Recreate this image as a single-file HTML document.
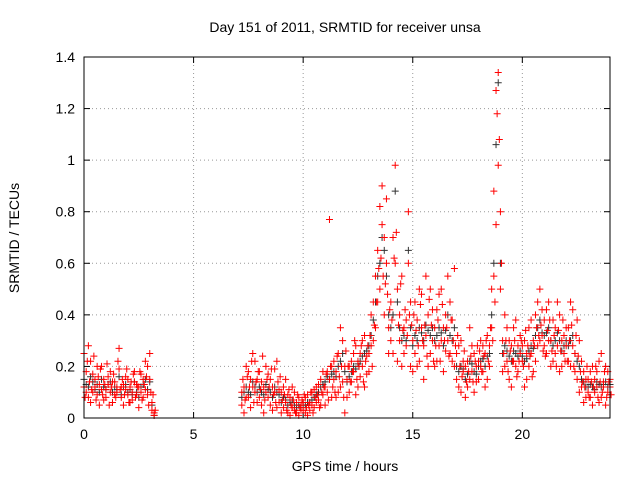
<!DOCTYPE html>
<html><head><meta charset="utf-8"><style>
body{margin:0;background:#fff;}
svg{display:block;font-family:"Liberation Sans",sans-serif;}
</style></head><body>
<svg id="chart" width="640" height="480">
<text x="345" y="32" text-anchor="middle" font-size="14">Day 151 of 2011, SRMTID for receiver unsa</text>
<text x="345" y="471" text-anchor="middle" font-size="14">GPS time / hours</text>
<text transform="translate(19,238) rotate(-90)" text-anchor="middle" font-size="14">SRMTID / TECUs</text>
<g id="grid"></g><g id="axes"></g><g id="blk"></g><g id="red"></g>
<rect x="84" y="57" width="526" height="361" fill="none" stroke="#000" stroke-width="1"/>
</svg>
<script>
const times=[0,0.1,0.2,0.3,0.4,0.5,0.6,0.7,0.8,0.9,1,1.1,1.2,1.3,1.4,1.5,1.6,1.7,1.8,1.9,2,2.1,2.2,2.3,2.4,2.5,2.6,2.7,2.8,2.9,3,3.1,3.2,
7.2,7.3,7.4,7.5,7.6,7.7,7.8,7.9,8,8.1,8.2,8.3,8.4,8.5,8.6,8.7,8.8,8.9,9,9.1,9.2,9.3,9.4,9.5,9.6,9.7,9.8,9.9,
10,10.1,10.2,10.3,10.4,10.5,10.6,10.7,10.8,10.9,11,11.1,11.2,11.3,11.4,11.5,11.6,11.7,11.8,11.9,12,12.1,12.2,12.3,12.4,12.5,12.6,12.7,12.8,12.9,
13,13.1,13.2,13.3,13.4,13.5,13.6,13.7,13.8,13.9,14,14.1,14.2,14.3,14.4,14.5,14.6,14.7,14.8,14.9,15,15.1,15.2,15.3,15.4,15.5,15.6,15.7,15.8,15.9,
16,16.1,16.2,16.3,16.4,16.5,16.6,16.7,16.8,16.9,17,17.1,17.2,17.3,17.4,17.5,17.6,17.7,17.8,17.9,18,18.1,18.2,18.3,18.4,18.5,18.6,18.7,18.8,18.9,
19,19.1,19.2,19.3,19.4,19.5,19.6,19.7,19.8,19.9,20,20.1,20.2,20.3,20.4,20.5,20.6,20.7,20.8,20.9,21,21.1,21.2,21.3,21.4,21.5,21.6,21.7,21.8,21.9,
22,22.1,22.2,22.3,22.4,22.5,22.6,22.7,22.8,22.9,23,23.1,23.2,23.3,23.4,23.5,23.6,23.7,23.8,23.9,24];
const red1=[.12,.18,.08,.22,.10,.15,.09,.13,.20,.07,.11,.16,.10,.14,.09,.12,.19,.08,.13,.11,.15,.06,.10,.14,.09,.12,.17,.08,.11,.20,.15,.06,.02,
.05,.12,.20,.08,.15,.25,.10,.06,.18,.05,.12,.20,.08,.15,.03,.10,.22,.06,.10,.04,.15,.02,.08,.12,.03,.06,.01,.05,
.03,.08,.01,.06,.10,.04,.12,.07,.15,.09,.12,.18,.77,.20,.15,.08,.25,.12,.30,.02,.15,.10,.22,.18,.28,.12,.25,.20,.32,.17,
.25,.40,.30,.55,.45,.82,.90,.70,.60,.35,.30,.25,.98,.50,.40,.20,.35,.28,.80,.45,.30,.45,.20,.50,.35,.28,.55,.40,.25,.42,
.35,.22,.48,.30,.18,.40,.55,.25,.38,.20,.25,.12,.30,.18,.08,.22,.15,.28,.10,.20,.22,.30,.18,.25,.15,.28,.35,.55,1.27,.98,
.80,.30,.20,.35,.15,.28,.22,.38,.18,.25,.22,.30,.15,.35,.25,.18,.40,.28,.50,.32,.38,.25,.45,.30,.22,.35,.28,.40,.20,.32,
.28,.35,.20,.42,.25,.15,.30,.12,.18,.08,.10,.18,.05,.15,.12,.22,.08,.14,.20,.10,.15];
const red2=[.25,.10,.28,.06,.17,.12,.20,.05,.11,.15,.08,.13,.18,.06,.14,.10,.27,.12,.05,.16,.09,.12,.07,.18,.13,.04,.10,.15,.22,.09,.25,.03,.01,
.10,.02,.08,.18,.04,.12,.22,.15,.08,.14,.02,.10,.17,.05,.12,.19,.04,.11,.02,.12,.06,.09,.01,.04,.10,.02,.08,.03,
.06,.02,.09,.03,.05,.11,.06,.13,.05,.18,.05,.10,.15,.08,.22,.18,.10,.35,.14,.20,.08,.20,.14,.25,.09,.22,.16,.30,.12,.24,
.18,.28,.45,.35,.65,.50,.75,.40,.85,.25,.45,.70,.60,.22,.30,.55,.25,.38,.60,.20,.18,.25,.38,.22,.48,.15,.32,.20,.50,.30,
.20,.42,.28,.50,.35,.26,.30,.45,.22,.58,.15,.28,.10,.22,.20,.12,.35,.18,.25,.14,.15,.20,.28,.12,.32,.20,.50,.88,.75,1.34,
.50,.18,.40,.22,.30,.12,.35,.20,.28,.32,.28,.12,.25,.20,.38,.30,.22,.45,.30,.42,.28,.42,.30,.20,.38,.25,.45,.18,.30,.25,
.35,.22,.45,.28,.18,.38,.10,.22,.06,.15,.15,.08,.20,.10,.18,.06,.25,.12,.05,.18,.12];
const red3=[.08,.22,.14,.11,.24,.07,.16,.19,.09,.13,.21,.05,.12,.17,.08,.22,.11,.15,.09,.19,.06,.14,.17,.08,.12,.18,.07,.13,.16,.05,.10,.09,.03,
.15,.07,.16,.12,.22,.06,.14,.18,.11,.24,.07,.15,.12,.19,.09,.06,.14,.16,.07,.09,.03,.11,.05,.07,.02,.09,.04,.07,
.09,.04,.05,.10,.02,.08,.09,.04,.10,.12,.17,.07,.20,.12,.10,.24,.16,.20,.08,.26,.20,.14,.18,.30,.15,.20,.28,.14,.22,.28,
.32,.20,.36,.45,.58,.62,.55,.52,.48,.42,.38,.62,.72,.36,.52,.34,.42,.32,.40,.36,.40,.34,.28,.44,.30,.36,.24,.46,.36,.22,
.28,.38,.22,.44,.30,.35,.24,.38,.30,.28,.32,.20,.16,.26,.14,.18,.24,.14,.22,.28,.26,.18,.24,.30,.22,.35,.30,.45,1.18,1.08,
.60,.25,.30,.18,.26,.22,.30,.16,.22,.30,.20,.34,.28,.24,.16,.28,.35,.32,.36,.26,.24,.34,.38,.26,.32,.20,.34,.26,.38,.22,
.22,.30,.36,.20,.32,.24,.18,.14,.12,.20,.08,.14,.12,.20,.08,.14,.10,.18,.08,.14,.09];
const black=[.15,.13,.12,.16,.14,.11,.13,.10,.15,.12,.11,.13,.14,.10,.12,.11,.16,.09,.12,.13,.10,.11,.09,.14,.10,.08,.12,.13,.15,.11,.14,.05,.01,
.08,.10,.12,.10,.09,.14,.12,.10,.12,.10,.09,.13,.11,.10,.08,.12,.10,.09,.06,.08,.07,.05,.06,.07,.05,.04,.05,.04,
.05,.05,.06,.06,.07,.08,.09,.10,.12,.13,.14,.16,.15,.17,.18,.16,.20,.22,.25,.18,.14,.16,.18,.20,.19,.21,.22,.24,.25,.26,
.28,.32,.38,.45,.55,.60,.70,.65,.55,.40,.35,.40,.88,.45,.35,.30,.32,.30,.65,.35,.28,.32,.30,.35,.33,.30,.36,.34,.32,.35,
.30,.32,.35,.33,.28,.34,.40,.32,.30,.35,.20,.18,.20,.19,.15,.17,.22,.21,.18,.17,.20,.22,.23,.20,.24,.25,.40,.60,1.06,1.30,
.60,.25,.28,.26,.24,.22,.26,.25,.24,.26,.24,.22,.23,.26,.28,.27,.32,.35,.38,.33,.32,.33,.35,.30,.28,.30,.33,.30,.26,.28,
.30,.28,.30,.32,.25,.22,.20,.15,.14,.12,.12,.13,.12,.11,.14,.13,.12,.13,.14,.12,.13];
const xTicks=[0,5,10,15,20];
const yTicks=[0,0.2,0.4,0.6,0.8,1,1.2,1.4];
const yTickLabels=["0","0.2","0.4","0.6","0.8","1","1.2","1.4"];
const X0=84,X1=610,Y0=418,Y1=57;
const xs=v=>X0+(v/24)*(X1-X0), ys=v=>Y0-(v/1.4)*(Y0-Y1);
const NS="http://www.w3.org/2000/svg";
function mk(tag,attrs,parent){const e=document.createElementNS(NS,tag);for(const k in attrs)e.setAttribute(k,attrs[k]);document.getElementById(parent).appendChild(e);return e;}
xTicks.forEach(t=>{const x=xs(t);
 if(t>0){const g=mk('line',{x1:x,x2:x,y1:Y0,y2:Y1,stroke:'#999','stroke-dasharray':'1,3'},'grid');
 
 }
 const a=mk('line',{x1:x,x2:x,y1:Y0,y2:Y0-6,stroke:'#000'},'axes');
 
 
 const b=mk('line',{x1:x,x2:x,y1:Y1,y2:Y1+6,stroke:'#000'},'axes');
 
 
 const l=mk('text',{x:x,y:Y0+21,'text-anchor':'middle','font-size':'14'},'axes');l.textContent=t;
 
 });
yTicks.forEach((t,i)=>{const y=ys(t);
 if(t>0&&t<1.4){const g=mk('line',{x1:X0,x2:X1,y1:y,y2:y,stroke:'#999','stroke-dasharray':'1,3'},'grid');
 
 }
 const a=mk('line',{x1:X0,x2:X0+6,y1:y,y2:y,stroke:'#000'},'axes');
 
 
 const b=mk('line',{x1:X1,x2:X1-6,y1:y,y2:y,stroke:'#000'},'axes');
 
 
 const l=mk('text',{x:X0-9,y:y+5,'text-anchor':'end','font-size':'14'},'axes');l.textContent=yTickLabels[i];
 
 });
function plus(t,v,color,parent,name){const x=xs(t),y=ys(v);
 const p=mk('path',{d:`M${x-3.5},${y}H${x+3.5}M${x},${y-3.5}V${y+3.5}`,stroke:color,'stroke-width':'1',fill:'none'},parent);
 
 }
times.forEach((t,i)=>plus(t,black[i],'#333','blk','black-point'));
times.forEach((t,i)=>{plus(t,red1[i],'#f00','red','red-point');plus(t,red2[i],'#f00','red','red-point');plus(t+0.05,red3[i],'#f00','red','red-point');});
</script>
</body></html>
